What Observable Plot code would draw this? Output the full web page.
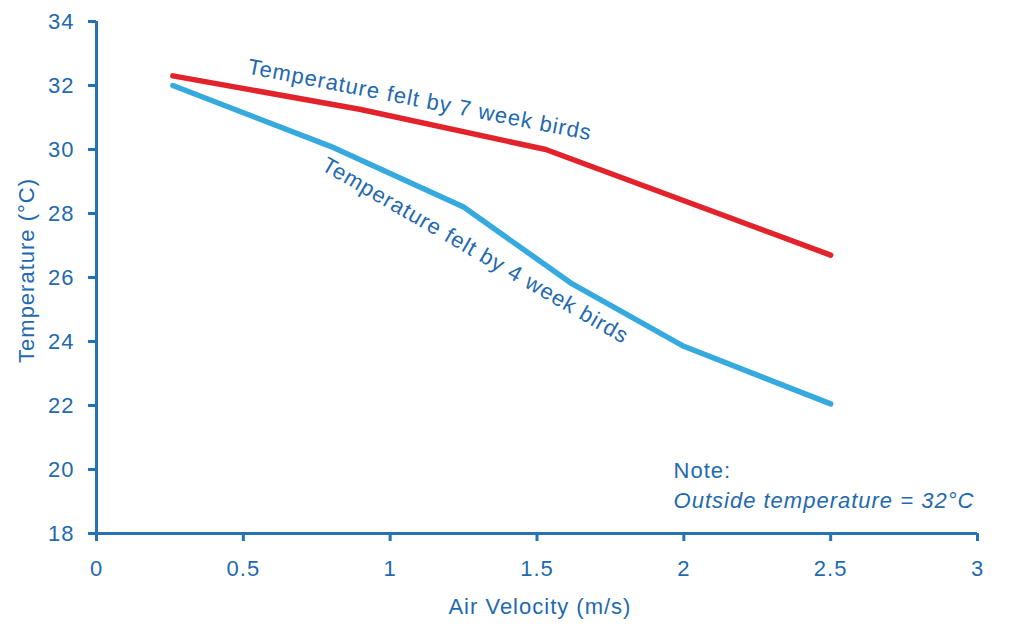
<!DOCTYPE html>
<html><head><meta charset="utf-8">
<script src="https://cdn.jsdelivr.net/npm/d3@7"></script>
<script src="https://cdn.jsdelivr.net/npm/@observablehq/plot@0.6"></script>
<style>body{margin:0;background:#fff;} svg text{letter-spacing:1px;}</style>
</head><body><div id="chart"></div>
<script>
const velocity7 = [0.26, 0.9, 1.53, 2.5];
const temp7 = [32.3, 31.25, 30.0, 26.7];
const velocity4 = [0.26, 0.81, 1.25, 1.62, 2.0, 2.5];
const temp4 = [32.0, 30.05, 28.2, 25.8, 23.85, 22.05];
const xTicks = [0, 0.5, 1, 1.5, 2, 2.5, 3];
const yTicks = [18, 20, 22, 24, 26, 28, 30, 32, 34];
const seriesLabels = ["Temperature felt by 7 week birds", "Temperature felt by 4 week birds"];
const noteLines = ["Note:", "Outside temperature = 32°C"];
const xLabel = "Air Velocity (m/s)";
const yLabel = "Temperature (°C)";

const textColor = "#2369ad";
const axisColor = "#2672b5";
const red = "#e2232b";
const blue = "#36a9de";
const fs = 22;

const data7 = velocity7.map((v, i) => ({v, t: temp7[i]}));
const data4 = velocity4.map((v, i) => ({v, t: temp4[i]}));

const chart = Plot.plot({
  width: 1024,
  height: 634,
  marginLeft: 96,
  marginRight: 47,
  marginTop: 21,
  marginBottom: 101,
  style: {fontFamily: "'Liberation Sans', Arial, sans-serif", fontSize: fs + "px", color: textColor, background: "#fff"},
  x: {domain: [0, 3]},
  y: {domain: [18, 34]},
  marks: [
    Plot.axisX({ticks: xTicks, tickSize: 8, tickPadding: 19, tickFormat: d => String(d), strokeWidth: 3, stroke: axisColor, fill: textColor, fontSize: fs, label: null}),
    Plot.axisY({ticks: yTicks, tickSize: 8, tickPadding: 14, tickFormat: d => String(d), strokeWidth: 3, stroke: axisColor, fill: textColor, fontSize: fs, label: null}),
    Plot.ruleY([18], {stroke: axisColor, strokeWidth: 3}),
    Plot.ruleX([0], {stroke: axisColor, strokeWidth: 3}),
    Plot.line(data4, {x: "v", y: "t", stroke: blue, strokeWidth: 5.5, strokeLinejoin: "round"}),
    Plot.line(data7, {x: "v", y: "t", stroke: red, strokeWidth: 5.5, strokeLinejoin: "round"}),
    Plot.text([seriesLabels[0]], {x: 1.101, y: 31.55, text: d => d, rotate: 11, fontSize: fs, fill: textColor, textAnchor: "middle", lineAnchor: "middle"}),
    Plot.text([seriesLabels[1]], {x: 1.29, y: 26.84, text: d => d, rotate: 30, fontSize: fs, fill: textColor, textAnchor: "middle", lineAnchor: "middle"}),
    Plot.text([noteLines[0]], {x: 1.965, y: 19.75, text: d => d, fontSize: fs, fill: textColor, textAnchor: "start", lineAnchor: "bottom"}),
    Plot.text([noteLines[1]], {x: 1.965, y: 18.81, text: d => d, fontSize: fs, fontStyle: "italic", fill: textColor, textAnchor: "start", lineAnchor: "bottom"}),
    Plot.text([xLabel], {x: 1.51, y: 15.69, text: d => d, fontSize: fs, fill: textColor, textAnchor: "middle", lineAnchor: "middle"}),
    Plot.text([yLabel], {x: -0.238, y: 26.22, text: d => d, rotate: -90, fontSize: fs, fill: textColor, textAnchor: "middle", lineAnchor: "middle"})
  ]
});
document.getElementById("chart").appendChild(chart);
</script>
</body></html>
